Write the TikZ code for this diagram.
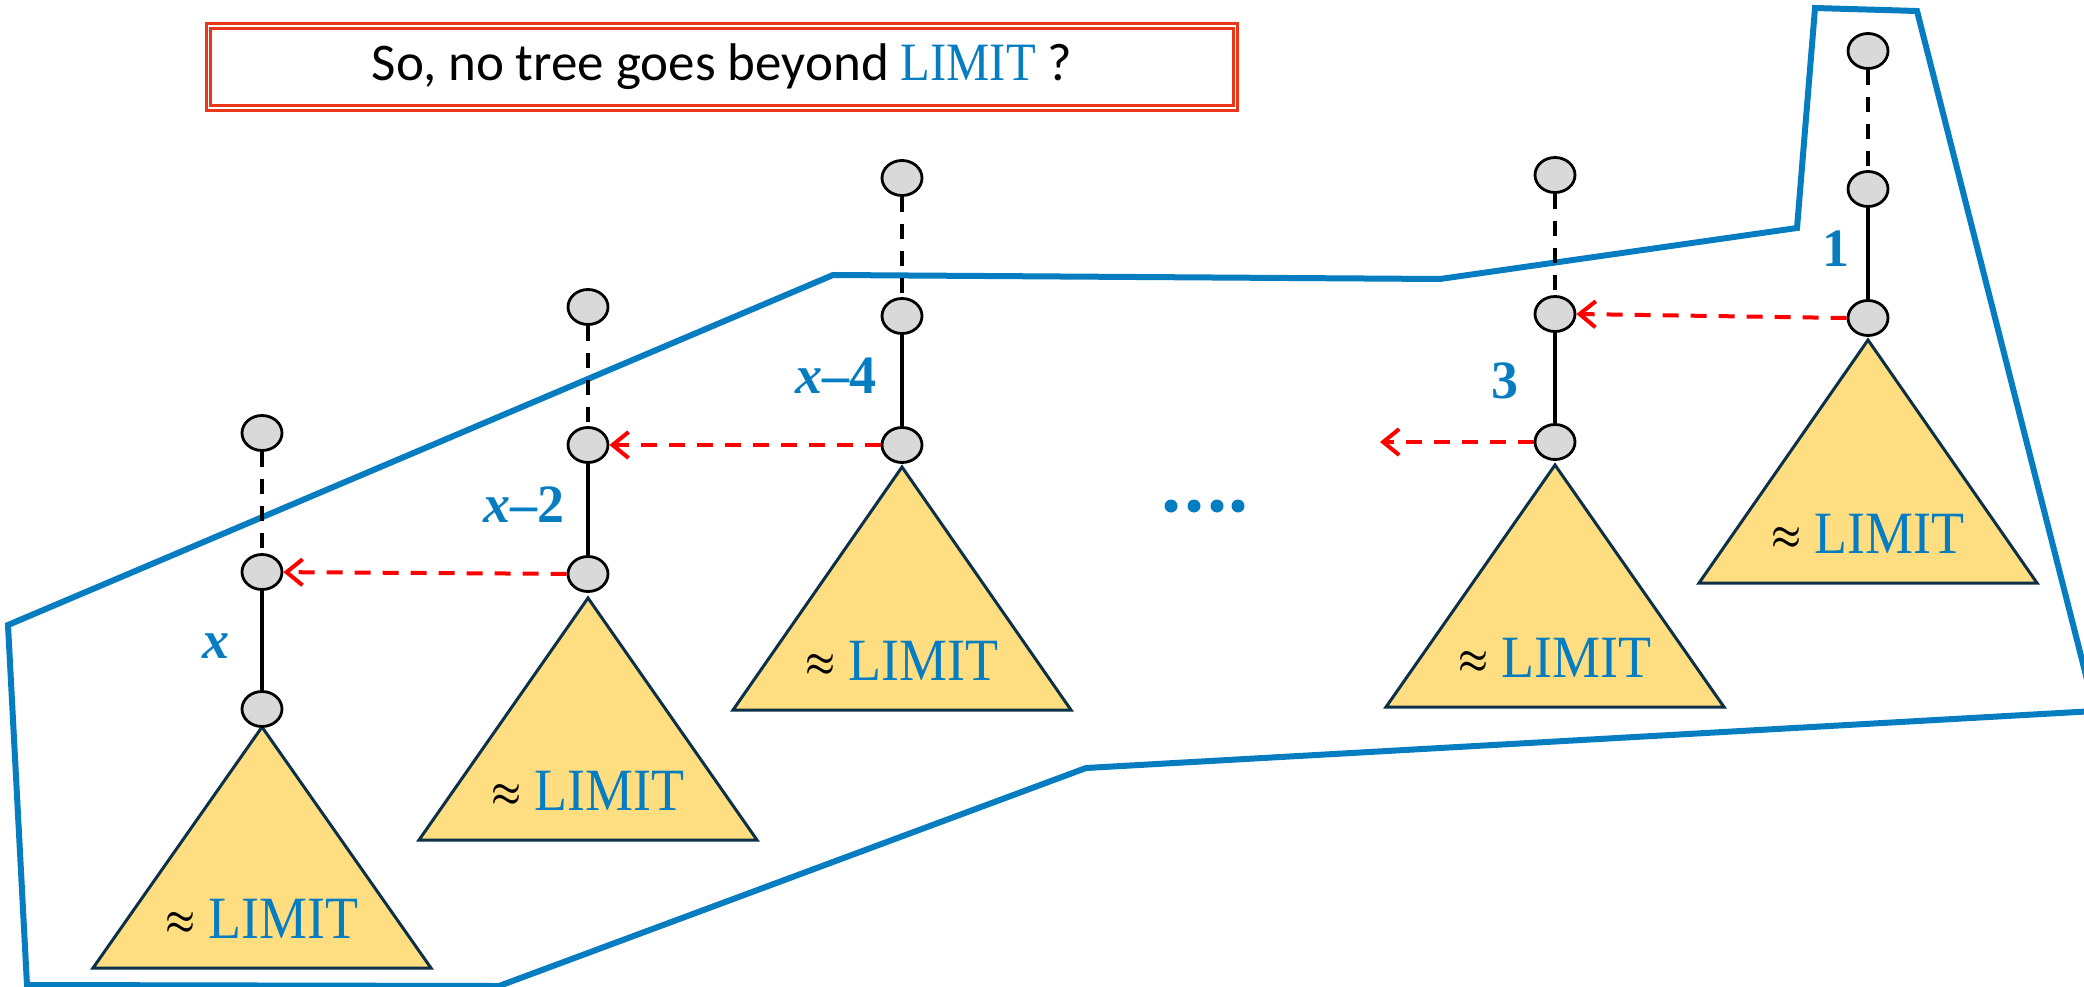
\documentclass[tikz,border=0pt]{standalone}
\usepackage{graphicx}
\usepackage{fontspec}
\setmainfont{Liberation Serif}
\newfontfamily\titlefont{Carlito}
\newfontfamily\limitfont[FakeStretch=0.9]{Liberation Serif}
\usetikzlibrary{shapes.geometric,arrows.meta}
\definecolor{myblue}{RGB}{6,125,193}
\definecolor{treefill}{RGB}{255,222,130}
\definecolor{treeline}{RGB}{12,48,72}
\definecolor{vgray}{RGB}{217,217,217}
\definecolor{arrred}{RGB}{255,0,0}
\definecolor{boxred}{RGB}{235,55,25}
\newcommand{\apx}{\raisebox{5pt}{\resizebox{30pt}{21pt}{\boldmath$\approx$}}}
\begin{document}
\begin{tikzpicture}[x=1pt,y=-1pt,
  vert/.style={ellipse,draw=black,fill=vgray,line width=2.8pt,minimum width=40pt,minimum height=35pt,inner sep=0pt},
  solidedge/.style={draw=black,line width=4pt},
  dashedge/.style={draw=black,line width=4pt,dash pattern=on 15pt off 12pt},
  redarrow/.style={draw=arrred,line width=4pt,dash pattern=on 16pt off 12pt,-{Straight Barb[length=16pt,width=26pt]}},
  treetri/.style={fill=treefill,draw=treeline,line width=3pt,line join=miter},
  limittext/.style={anchor=base,inner sep=0pt,font=\limitfont\fontsize{60}{66}\selectfont},
  lbl/.style={anchor=base east,inner sep=0pt,text=myblue,font=\bfseries\fontsize{54}{60}\selectfont},
  region/.style={draw=myblue,line width=6pt},
  titlebox/.style={draw=boxred,double=white,line width=3pt,double distance=1.8pt,minimum width=1027pt,minimum height=82pt,inner sep=0pt},
]
\useasboundingbox (0,0) rectangle (2084,987);

% blue region
\begin{scope}
\clip (0,0) rectangle (2084,987);
\draw[region] (1815,8) -- (1917,11) -- (2095,711) -- (1086,768) -- (499,986) -- (27,985) -- (8,625) -- (833,275) -- (1440,279) -- (1797,228) -- cycle;
\end{scope}

% title
\node[titlebox] (title) at (722,67) {\fontsize{53}{60}\selectfont\titlefont So, no tree goes beyond {\limitfont\fontsize{54}{60}\selectfont\color{myblue}LIMIT} ?};

% triangles
\draw[treetri] (262,727) -- (431,968) -- (93,968) -- cycle;
\draw[treetri] (588,598) -- (757,840) -- (419,840) -- cycle;
\draw[treetri] (902,467) -- (1071,710) -- (733,710) -- cycle;
\draw[treetri] (1555,465) -- (1724,707) -- (1386,707) -- cycle;
\draw[treetri] (1868,340) -- (2037,583) -- (1699,583) -- cycle;

\node[limittext] (lim1) at (262,938) {\apx\ \textcolor{myblue}{LIMIT}};
\node[limittext] (lim2) at (588,810) {\apx\ \textcolor{myblue}{LIMIT}};
\node[limittext] (lim3) at (902,680) {\apx\ \textcolor{myblue}{LIMIT}};
\node[limittext] (lim4) at (1555,677) {\apx\ \textcolor{myblue}{LIMIT}};
\node[limittext] (lim5) at (1868,553) {\apx\ \textcolor{myblue}{LIMIT}};

% vertices
\node[vert] (t1a) at (262,433) {};
\node[vert] (t1b) at (262,572) {};
\node[vert] (t1c) at (262,709) {};
\node[vert] (t2a) at (588,307) {};
\node[vert] (t2b) at (588,445) {};
\node[vert] (t2c) at (588,574) {};
\node[vert] (t3a) at (902,178) {};
\node[vert] (t3b) at (902,316) {};
\node[vert] (t3c) at (902,445) {};
\node[vert] (t4a) at (1555,175) {};
\node[vert] (t4b) at (1555,314) {};
\node[vert] (t4c) at (1555,442) {};
\node[vert] (t5a) at (1868,51) {};
\node[vert] (t5b) at (1868,189) {};
\node[vert] (t5c) at (1868,318) {};

% edges
\foreach \t in {t1,t2,t3,t4,t5}{
  \draw[dashedge] (\t a) -- (\t b);
  \draw[solidedge] (\t b) -- (\t c);
}

% labels
\node[lbl] (l1) at (230,658) {\itshape x};
\node[lbl] (l2) at (565,522) {{\itshape x}–2};
\node[lbl] (l3) at (877,393) {{\itshape x}–4};
\node[lbl] (l4) at (1519,398) {3};
\node[lbl] (l5) at (1850,266) {1};

% red arrows
\coordinate (free) at (1380,442);
\draw[redarrow] (t2c) -- (t1b);
\draw[redarrow] (t3c) -- (t2b);
\draw[redarrow] (t4c) -- (free);
\draw[redarrow] (t5c.west) -- (t4b.east);

% dots
\foreach \xx in {1171,1194,1217,1238}{
  \fill[myblue] (\xx,506) circle (6.5);
}
\end{tikzpicture}
\end{document}
